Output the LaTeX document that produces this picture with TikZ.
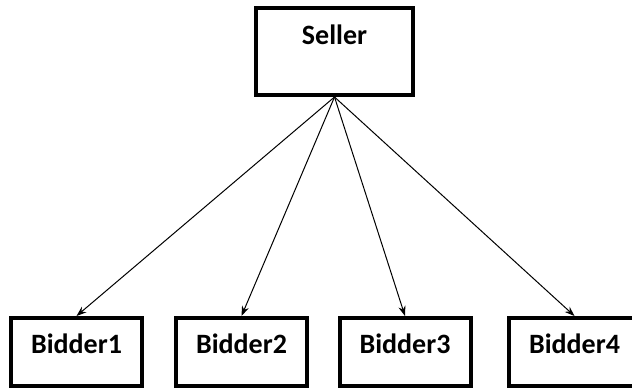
\documentclass[tikz,border=0pt]{standalone}
\usepackage{fontspec}
\setmainfont{Carlito}
\usetikzlibrary{arrows.meta}

\tikzset{
	party/.style={draw, line width=2pt, rectangle, font=\fontsize{14}{16}\selectfont\bfseries},
	seller/.style={party, minimum width=78.5pt, minimum height=43.5pt, text height=10pt, text depth=16.5pt},
	bidder/.style={party, minimum width=65.5pt, minimum height=34pt, text height=10pt, text depth=8pt},
	offer/.style={line width=0.5pt, -{Stealth[length=5pt, width=3.6pt]}}
}

\begin{document}
\begin{tikzpicture}[x=0.5pt, y=-0.5pt]
		%%%%% START %%%%%
		
		\useasboundingbox (0, 0) rectangle (632, 389);
		
		\node[seller] (seller) at (334.5, 51.5) {Seller};
		
		\node[bidder] (bidder1) at (76.5, 352) {Bidder1};
		\node[bidder] (bidder2) at (241.5, 352) {Bidder2};
		\node[bidder] (bidder3) at (405, 352) {Bidder3};
		\node[bidder] (bidder4) at (574.5, 352) {Bidder4};
		
		\draw[offer] (seller.south) -- (bidder1.north);
		\draw[offer] (seller.south) -- (bidder2.north);
		\draw[offer] (seller.south) -- (bidder3.north);
		\draw[offer] (seller.south) -- (bidder4.north);
		
		%%%%% END %%%%%
	\end{tikzpicture}
\end{document}
